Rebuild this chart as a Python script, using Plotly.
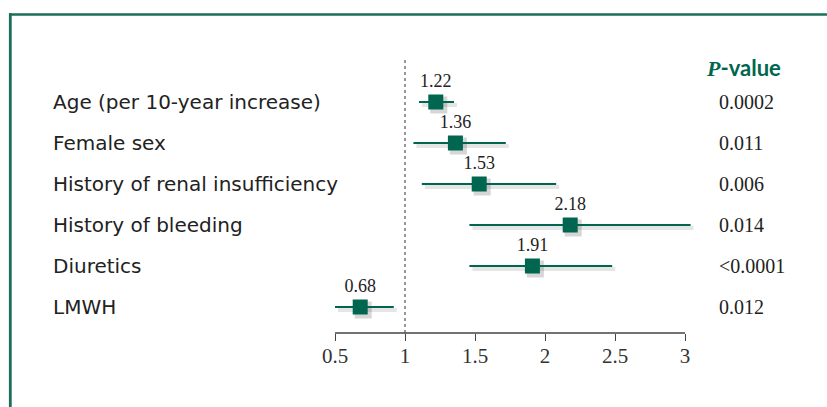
import plotly.graph_objects as go

# Forest plot of risk factors: odds ratios with 95% confidence intervals
factors = [
    "Age (per 10-year increase)",
    "Female sex",
    "History of renal insufficiency",
    "History of bleeding",
    "Diuretics",
    "LMWH",
]
odds_ratio = [1.22, 1.36, 1.53, 2.18, 1.91, 0.68]
ci_low = [1.10, 1.06, 1.12, 1.46, 1.46, 0.50]
ci_high = [1.35, 1.72, 2.08, 3.04, 2.48, 0.92]
p_values = ["0.0002", "0.011", "0.006", "0.014", "<0.0001", "0.012"]
tick_vals = [0.5, 1, 1.5, 2, 2.5, 3]
tick_text = ["0.5", "1", "1.5", "2", "2.5", "3"]

GREEN = "#00664f"
FRAME = "#1b6e5a"
SERIF = "Liberation Serif, Times New Roman, serif"
SANS = "DejaVu Sans, Open Sans, sans-serif"

W, H = 827, 407
L, T, PW, PH = 321, 40, 392, 293
X_RANGE = [0.4, 3.2]
ROW_PX = 41.0
n = len(factors)
rows = [n - i for i in range(n)]  # top row first
# y range chosen so that rows sit ROW_PX pixels apart
y_bottom = 1 - (T + PH - (102 + (n - 1) * ROW_PX)) / ROW_PX
y_top = y_bottom + PH / ROW_PX
x_per_px = (X_RANGE[1] - X_RANGE[0]) / PW
y_per_px = (y_top - y_bottom) / PH


def px(x):
    return (x - L) / PW


def py(y):
    return (T + PH - y) / PH


fig = go.Figure()

# soft drop shadows behind intervals and squares
dx, dy = 3 * x_per_px, 3 * y_per_px
for lo, hi, r in zip(ci_low, ci_high, rows):
    fig.add_trace(go.Scatter(
        x=[lo + dx, hi + dx], y=[r - dy, r - dy], mode="lines",
        line=dict(color="rgba(0,0,0,0.10)", width=4),
        hoverinfo="skip", showlegend=False, cliponaxis=False))
fig.add_trace(go.Scatter(
    x=[v + dx for v in odds_ratio], y=[r - dy for r in rows], mode="markers",
    marker=dict(symbol="square", size=17, color="rgba(0,0,0,0.16)", line=dict(width=0)),
    hoverinfo="skip", showlegend=False, cliponaxis=False))

# confidence intervals
for lo, hi, r in zip(ci_low, ci_high, rows):
    fig.add_trace(go.Scatter(
        x=[lo, hi], y=[r, r], mode="lines",
        line=dict(color=GREEN, width=2),
        hoverinfo="skip", showlegend=False, cliponaxis=False))

# point estimates
fig.add_trace(go.Scatter(
    x=odds_ratio, y=rows, mode="markers",
    marker=dict(symbol="square", size=15, color=GREEN, line=dict(width=0)),
    showlegend=False, cliponaxis=False))

# value labels above each square
fig.add_trace(go.Scatter(
    x=odds_ratio, y=[r + 20 * y_per_px for r in rows], mode="text",
    text=[f"{v:.2f}" for v in odds_ratio], textposition="middle center",
    textfont=dict(family=SERIF, size=18, color="#222"),
    hoverinfo="skip", showlegend=False, cliponaxis=False))

shapes = [
    # reference line at OR = 1
    dict(type="line", xref="x", yref="y", x0=1, x1=1,
         y0=y_bottom, y1=rows[0] + 45 / ROW_PX,
         line=dict(color="#777", width=1.5, dash="3px,3px")),
    # horizontal axis line
    dict(type="line", xref="x", yref="paper", x0=tick_vals[0], x1=tick_vals[-1],
         y0=0, y1=0, line=dict(color="#444", width=1.3)),
    # panel frame (top and left edges)
    dict(type="line", xref="paper", yref="paper", x0=px(9), x1=px(W + 2),
         y0=py(14.5), y1=py(14.5), line=dict(color=FRAME, width=2.5)),
    dict(type="line", xref="paper", yref="paper", x0=px(10.3), x1=px(10.3),
         y0=py(13.3), y1=py(H + 2), line=dict(color=FRAME, width=2.8)),
]

annotations = []
for name, pv, r in zip(factors, p_values, rows):
    annotations.append(dict(
        x=px(51), y=r, xref="paper", yref="y", text=name, showarrow=False,
        xanchor="left", yanchor="middle", font=dict(family=SANS, size=20, color="#222")))
    annotations.append(dict(
        x=px(717), y=r, xref="paper", yref="y", text=pv, showarrow=False,
        xanchor="left", yanchor="middle", font=dict(family=SERIF, size=20, color="#222")))
annotations.append(dict(
    x=px(743), y=py(67), xref="paper", yref="paper", showarrow=False,
    xanchor="center", yanchor="middle",
    text=(f"<span style='font-family:{SERIF}'><b><i>P</i></b></span>"
          "<b>-value</b>"),
    font=dict(family="Lato, sans-serif", size=22, color=GREEN)))

fig.update_layout(
    width=W, height=H,
    margin=dict(l=L, r=W - L - PW, t=T, b=H - T - PH),
    paper_bgcolor="white", plot_bgcolor="white",
    shapes=shapes, annotations=annotations,
    xaxis=dict(range=X_RANGE, tickvals=tick_vals, ticktext=tick_text,
               ticks="outside", ticklen=7, tickwidth=1.3, tickcolor="#444",
               ticklabelstandoff=-3,
               showline=False, showgrid=False, zeroline=False,
               tickfont=dict(family=SERIF, size=21, color="#333"), fixedrange=True),
    yaxis=dict(range=[y_bottom, y_top], visible=False, fixedrange=True),
)

fig.write_html("out.html")
